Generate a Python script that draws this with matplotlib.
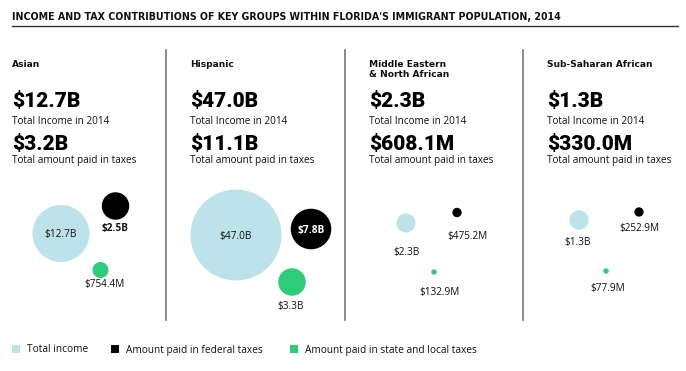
import matplotlib.pyplot as plt
from matplotlib.patches import Circle, Rectangle

# data (US$)
groups = ['Asian', 'Hispanic', 'Middle Eastern\n& North African', 'Sub-Saharan African']
income = [12.7e9, 47.0e9, 2.3e9, 1.3e9]
total_taxes = [3.2e9, 11.1e9, 608.1e6, 330.0e6]
federal = [2.5e9, 7.8e9, 475.2e6, 252.9e6]
state_local = [754.4e6, 3.3e9, 132.9e6, 77.9e6]

title = "INCOME AND TAX CONTRIBUTIONS OF KEY GROUPS WITHIN FLORIDA'S IMMIGRANT POPULATION, 2014"
legend_labels = ['Total income', 'Amount paid in federal taxes', 'Amount paid in state and local taxes']

# colours / layout (pixel coords, y down)
BLUE = '#bde3ea'
BLACK = '#000000'
GREEN = '#2ecc7a'
TXT = '#111111'
panel_x = [12, 190, 369, 547]
dividers = [166, 345, 523]
# bubble layout per panel: income / federal / state-local centres
inc_xy = [(61, 233.5), (236, 235), (406, 223), (579, 220)]
fed_xy = [(115.5, 206), (311, 229), (457, 212.5), (639, 212)]
sl_xy = [(100.5, 270), (292, 282), (434, 272), (606, 271)]
inc_r = [28.5, 45.5, 9.5, 9.7]
# label centres (None = inside the bubble)
inc_lab = [None, None, (406, 252), (578, 243)]
fed_lab = [(115, 228.5), None, (467, 236), (639, 228)]
sl_lab = [(105, 285), (291, 306), (440, 293), (608, 288)]

NUM = 'Roboto'
BODY = 'Open Sans'
HEAD = 'DejaVu Sans'


def money(v):
    if v >= 1e9:
        return f'${v / 1e9:.1f}B'
    return f'${v / 1e6:.1f}M'


fig = plt.figure(figsize=(6.86, 3.71), dpi=100)
ax = fig.add_axes([0, 0, 1, 1])
ax.set_xlim(0, 686)
ax.set_ylim(371, 0)
ax.set_aspect('equal')
ax.axis('off')

ax.text(12, 20, title, fontsize=6.85, fontweight='bold', family=HEAD, color=TXT, va='baseline')
ax.plot([12, 678], [26, 26], color='#333333', lw=1)

for x in dividers:
    ax.plot([x, x], [50, 320], color='#777777', lw=1.2)

for i, g in enumerate(groups):
    x0 = panel_x[i]
    ax.text(x0, 60, g, fontsize=6.6, fontweight='bold', family=HEAD, color=TXT,
            va='top', linespacing=1.1)
    ax.text(x0, 107, money(income[i]), fontsize=15, fontweight='black', family=NUM, color=BLACK, va='baseline')
    ax.text(x0, 124, 'Total Income in 2014', fontsize=7.2, family=BODY, color=TXT, va='baseline')
    ax.text(x0, 150, money(total_taxes[i]), fontsize=15, fontweight='black', family=NUM, color=BLACK, va='baseline')
    ax.text(x0, 163, 'Total amount paid in taxes', fontsize=7.2, family=BODY, color=TXT, va='baseline')

    # bubbles: radius ~ value^0.45, scaled per panel
    k = inc_r[i] / income[i] ** 0.45
    for val, xy, col, lab in [(income[i], inc_xy[i], BLUE, inc_lab[i]),
                              (federal[i], fed_xy[i], BLACK, fed_lab[i]),
                              (state_local[i], sl_xy[i], GREEN, sl_lab[i])]:
        r = k * val ** 0.45
        ax.add_patch(Circle(xy, r, color=col, lw=0))
        if lab is None:
            c = 'white' if col == BLACK else TXT
            w = 'bold' if col == BLACK else 'normal'
            ax.text(xy[0], xy[1] + 1.5, money(val), fontsize=7.3, color=c, fontweight=w,
                    family=BODY, ha='center', va='center')
        else:
            w = 'bold' if (col == BLACK and i == 0) else 'normal'
            ax.text(lab[0], lab[1], money(val), fontsize=7.2, color=TXT, fontweight=w,
                    family=BODY, ha='center', va='center')

# legend
leg_x = [12, 111, 290]
for x, c, t in zip(leg_x, [BLUE, BLACK, GREEN], legend_labels):
    ax.add_patch(Rectangle((x, 345), 8, 8, color=c, lw=0))
    ax.text(x + 15, 352.5, t, fontsize=7.3, family=BODY, color=TXT, va='baseline')

fig.savefig('out.png', dpi=100)
